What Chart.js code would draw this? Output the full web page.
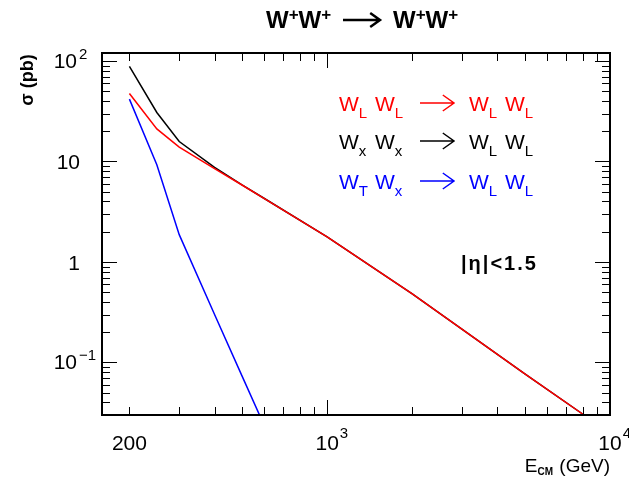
<!DOCTYPE html>
<html>
<head>
<meta charset="utf-8">
<script src="https://cdn.jsdelivr.net/npm/chart.js@4"></script>
<style>
  html, body { margin: 0; padding: 0; background: #fff; }
  #wrap { width: 629px; height: 477px; position: relative; }
</style>
</head>
<body>
<div id="wrap"><canvas id="sigmaChart"></canvas></div>
<script>
// sigma (pb) vs E_CM (GeV)
const energies = [200, 250, 300, 400, 500, 600, 1000, 2000, 5000, 8000];
const sigmaLL = [47.5, 21.1, 13.9, 8.5, 5.83, 4.27, 1.78, 0.48, 0.077, 0.0307];
const sigmaXX = [88.4, 30.7, 15.8, 8.75, 5.85, 4.28, 1.78, 0.48, 0.077, 0.0307];
const sigmaTX = [41.7, 9.27, 1.87, 0.30, 0.0735, 0.0234, null, null, null, null];

const xTickValues = [200, 1000, 10000];
const xTickBase = ['200', '10', '10'];
const xTickExp = ['', '3', '4'];
const yTickValues = [100, 10, 1, 0.1];
const yTickBase = ['10', '10', '1', '10'];
const yTickExp = ['2', '', '', '\u22121'];

const FONT = '"Liberation Sans", Arial, Helvetica, sans-serif';

function toPoints(ys) {
  return energies.map((e, i) => ({ x: e, y: ys[i] })).filter(p => p.y !== null);
}

// log tick positions between lo and hi
function logTicks(lo, hi) {
  const major = [], minor = [];
  for (let d = Math.floor(Math.log10(lo)); d <= Math.ceil(Math.log10(hi)); d++) {
    for (let m = 1; m < 10; m++) {
      const v = m * Math.pow(10, d);
      if (v < lo * 0.999 || v > hi * 1.001) continue;
      (m === 1 ? major : minor).push(v);
    }
  }
  return { major, minor };
}

function drawPieces(ctx, x, y, list) {
  list.forEach(p => {
    ctx.font = p.font;
    ctx.fillText(p.t, x, y + (p.dy || 0));
    x += ctx.measureText(p.t).width + (p.gap || 0);
  });
  return x;
}

function piecesWidth(ctx, list) {
  let w = 0;
  list.forEach(p => { ctx.font = p.font; w += ctx.measureText(p.t).width + (p.gap || 0); });
  return w;
}

function drawArrow(ctx, x1, x2, y, head, lw) {
  ctx.lineWidth = lw;
  ctx.beginPath();
  ctx.moveTo(x1, y);
  ctx.lineTo(x2, y);
  ctx.moveTo(x2 - head * 1.4, y - head);
  ctx.lineTo(x2, y);
  ctx.lineTo(x2 - head * 1.4, y + head);
  ctx.stroke();
}

const legendRows = [
  { color: '#ff0000', y: 111, subs: ['L', 'L', 'L', 'L'] },
  { color: '#000000', y: 149, subs: ['x', 'x', 'L', 'L'] },
  { color: '#0000ff', y: 189, subs: ['T', 'x', 'L', 'L'] }
];

const framePlugin = {
  id: 'frame',
  beforeDraw(chart) {
    const ctx = chart.ctx;
    ctx.save();
    ctx.fillStyle = '#fff';
    ctx.fillRect(0, 0, chart.width, chart.height);
    ctx.restore();
  },
  afterDraw(chart) {
    const { ctx, chartArea: a, scales } = chart;
    const xs = scales.x, ys = scales.y;
    ctx.save();
    ctx.strokeStyle = '#000';
    ctx.fillStyle = '#000';

    // inward ticks on all four sides
    const xt = logTicks(xs.min, xs.max);
    const yt = logTicks(ys.min, ys.max);
    ctx.lineWidth = 1;
    ctx.beginPath();
    [[xt.major, 15], [xt.minor, 8]].forEach(([vals, len]) => {
      vals.forEach(v => {
        const px = Math.round(xs.getPixelForValue(v)) + 0.5;
        ctx.moveTo(px, a.bottom); ctx.lineTo(px, a.bottom - len);
        ctx.moveTo(px, a.top); ctx.lineTo(px, a.top + len);
      });
    });
    [[yt.major, 15], [yt.minor, 8]].forEach(([vals, len]) => {
      vals.forEach(v => {
        const py = Math.round(ys.getPixelForValue(v)) + 0.5;
        ctx.moveTo(a.left, py); ctx.lineTo(a.left + len, py);
        ctx.moveTo(a.right, py); ctx.lineTo(a.right - len, py);
      });
    });
    ctx.stroke();

    ctx.lineWidth = 2;
    ctx.strokeRect(a.left, a.top, a.right - a.left, a.bottom - a.top);

    // x tick labels
    ctx.textBaseline = 'alphabetic';
    xTickValues.forEach((v, i) => {
      const px = xs.getPixelForValue(v);
      ctx.font = '21px ' + FONT;
      ctx.textAlign = 'center';
      ctx.fillText(xTickBase[i], px, 450);
      if (xTickExp[i]) {
        const w = ctx.measureText(xTickBase[i]).width;
        ctx.font = '15px ' + FONT;
        ctx.textAlign = 'left';
        ctx.fillText(xTickExp[i], px + w / 2 + 1, 438);
      }
    });

    // y tick labels
    yTickValues.forEach((v, i) => {
      const py = ys.getPixelForValue(v);
      ctx.font = '21px ' + FONT;
      ctx.textAlign = 'right';
      ctx.textBaseline = 'middle';
      if (yTickExp[i]) {
        ctx.fillText(yTickBase[i], 77, py + 1);
        ctx.font = '15px ' + FONT;
        ctx.textAlign = 'left';
        ctx.textBaseline = 'alphabetic';
        ctx.fillText(yTickExp[i], 79, py - 2);
      } else {
        ctx.fillText(yTickBase[i], 80, py + 2);
      }
    });

    // axis titles
    ctx.textBaseline = 'alphabetic';
    ctx.textAlign = 'left';
    const xTitle = [
      { t: 'E', font: '19px ' + FONT },
      { t: 'CM', font: 'bold 10px ' + FONT, dy: 3, gap: 1 },
      { t: ' (GeV)', font: '19px ' + FONT }
    ];
    drawPieces(ctx, 610 - piecesWidth(ctx, xTitle), 472, xTitle);

    ctx.save();
    ctx.translate(28, 80);
    ctx.rotate(-Math.PI / 2);
    ctx.font = 'bold 18px ' + FONT;
    ctx.textAlign = 'center';
    ctx.textBaseline = 'middle';
    ctx.fillText('\u03c3 (pb)', 0, 0);
    ctx.restore();

    // title
    const ww = [
      { t: 'W', font: 'bold 24px ' + FONT },
      { t: '+', font: 'bold 17px ' + FONT, dy: -8 },
      { t: 'W', font: 'bold 24px ' + FONT },
      { t: '+', font: 'bold 17px ' + FONT, dy: -8 }
    ];
    drawPieces(ctx, 266, 28, ww);
    drawArrow(ctx, 343, 380, 20, 7, 2.5);
    drawPieces(ctx, 393, 28, ww);

    // process labels
    const wx = [339, 375, 469, 505];
    legendRows.forEach(row => {
      ctx.fillStyle = row.color;
      ctx.strokeStyle = row.color;
      wx.forEach((x0, k) => {
        const s = row.subs[k];
        drawPieces(ctx, x0, row.y, [
          { t: 'W', font: '21px ' + FONT },
          { t: s, font: '15px ' + FONT, dy: 7 }
        ]);
      });
      drawArrow(ctx, 420, 454, row.y - 8, 8, 1.5);
    });

    ctx.fillStyle = '#000';
    ctx.font = 'bold 20px ' + FONT;
    ctx.letterSpacing = '2px';
    ctx.fillText('|\u03b7|<1.5', 461, 270);
    ctx.letterSpacing = '0px';

    ctx.restore();
  }
};

const ctx = document.getElementById('sigmaChart').getContext('2d');
new Chart(ctx, {
  type: 'line',
  data: {
    datasets: [
      { label: 'WL WL -> WL WL', data: toPoints(sigmaLL), borderColor: '#ff0000' },
      { label: 'Wx Wx -> WL WL', data: toPoints(sigmaXX), borderColor: '#000000' },
      { label: 'WT Wx -> WL WL', data: toPoints(sigmaTX), borderColor: '#0000ff' }
    ]
  },
  options: {
    responsive: true,
    maintainAspectRatio: false,
    animation: false,
    layout: { padding: { left: 102, right: 19, top: 53, bottom: 62 } },
    datasets: { line: { borderWidth: 1.5, pointRadius: 0, tension: 0, fill: false, clip: 0 } },
    plugins: { legend: { display: false }, tooltip: { enabled: false }, title: { display: false } },
    scales: {
      x: { type: 'logarithmic', min: 160, max: 10000, display: false },
      y: { type: 'logarithmic', min: 0.03, max: 120, display: false }
    }
  },
  plugins: [framePlugin]
});
</script>
</body>
</html>
